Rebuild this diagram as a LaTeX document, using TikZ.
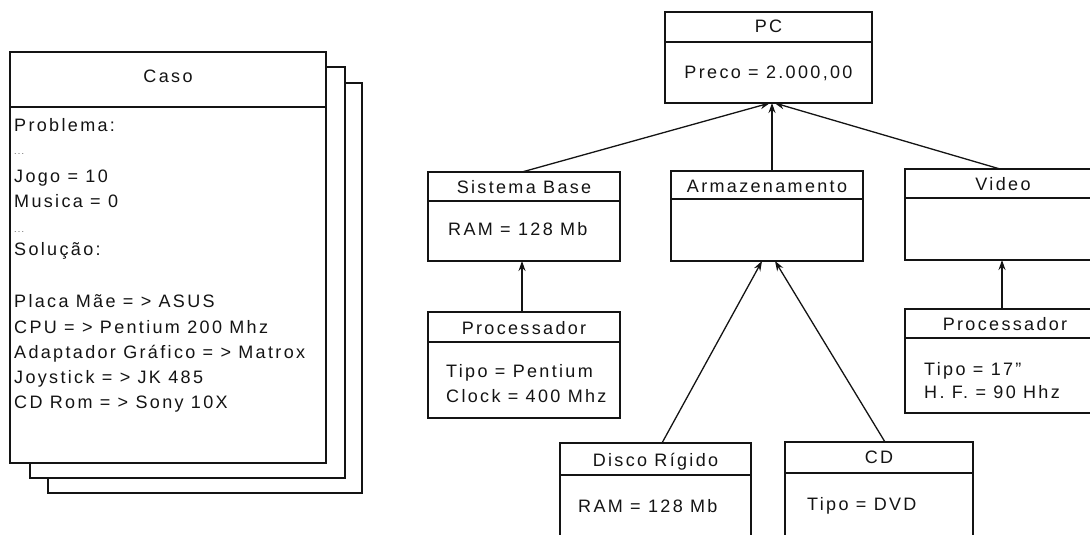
\documentclass[tikz,border=0pt]{standalone}
\usepackage{fontspec}
\setmainfont{Liberation Sans}[LetterSpace=13]
\usetikzlibrary{arrows.meta}
\definecolor{ink}{HTML}{141414}
\newcommand\txtsize{\fontsize{18}{21}\selectfont}
\tikzset{
  box/.style={draw=ink, line width=1.1pt, fill=white, inner sep=0pt, outer sep=0pt, anchor=north west},
  lbl/.style={font=\txtsize, text=ink, inner sep=0pt, anchor=base west},
  ttl/.style={font=\txtsize, text=ink, inner sep=0pt, anchor=base},
  dots/.style={font=\fontsize{9}{10}\selectfont, text=ink!70, inner sep=0pt, anchor=base west},
  arr/.style={draw=ink, line width=1.3pt, -{Stealth[length=10pt,width=7pt]}}
}
\begin{document}
\begin{tikzpicture}[x=1pt,y=-1pt]
\useasboundingbox (0,0) rectangle (1090,535);
\clip (0,0) rectangle (1090,535);

% ---- Caso stack ----
\node[box, minimum width=314pt, minimum height=410pt] (page3) at (48,83) {};
\node[box, minimum width=315pt, minimum height=411pt] (page2) at (30,67) {};
\node[box, minimum width=316pt, minimum height=55pt] (casot) at (10,52) {};
\node[box, minimum width=316pt, minimum height=356pt] (casob) at (casot.south west) {};
\node[ttl] (casol) at (168,83) {Caso};
\node[lbl] (c1) at (14,131) {Problema:};
\node[dots] (c2) at (14,154) {...};
\node[lbl] (c3) at (14,182) {Jogo = 10};
\node[lbl] (c4) at (14,207) {Musica = 0};
\node[dots] (c5) at (14,232) {...};
\node[lbl] (c6) at (14,255) {Solução:};
\node[lbl] (c7) at (14,307) {Placa Mãe = > ASUS};
\node[lbl] (c8) at (14,333) {CPU = > Pentium 200 Mhz};
\node[lbl] (c9) at (14,358) {Adaptador Gráfico = > Matrox};
\node[lbl] (c10) at (14,383) {Joystick = > JK 485};
\node[lbl] (c11) at (14,408) {CD Rom = > Sony 10X};

% ---- PC ----
\node[box, minimum width=207pt, minimum height=30pt] (pct) at (665,12) {};
\node[box, minimum width=207pt, minimum height=61pt] (pcb) at (pct.south west) {};
\node[ttl] (pcl) at (768.5,33) {PC};
\node[ttl] (pcv) at (768.5,78) {Preco = 2.000,00};

% ---- Sistema Base ----
\node[box, minimum width=192pt, minimum height=29pt] (sbt) at (428,172) {};
\node[box, minimum width=192pt, minimum height=60pt] (sbb) at (sbt.south west) {};
\node[ttl] (sbl) at (524,193) {Sistema Base};
\node[lbl] (sbv) at (448,235) {RAM = 128 Mb};

% ---- Processador (left) ----
\node[box, minimum width=192pt, minimum height=30pt] (plt) at (428,312) {};
\node[box, minimum width=192pt, minimum height=76pt] (plb) at (plt.south west) {};
\node[ttl] (pll) at (524,334) {Processador};
\node[lbl] (plv1) at (446,377) {Tipo = Pentium};
\node[lbl] (plv2) at (446,402) {Clock = 400 Mhz};

% ---- Armazenamento ----
\node[box, minimum width=192pt, minimum height=28pt] (at) at (671,171) {};
\node[box, minimum width=192pt, minimum height=62pt] (ab) at (at.south west) {};
\node[ttl] (al) at (767,192) {Armazenamento};

% ---- Video ----
\node[box, minimum width=196pt, minimum height=29pt] (vt) at (905,169) {};
\node[box, minimum width=196pt, minimum height=62pt] (vb) at (vt.south west) {};
\node[ttl] (vl) at (1003,190) {Video};

% ---- Processador (right) ----
\node[box, minimum width=200pt, minimum height=29pt] (prt) at (905,309) {};
\node[box, minimum width=200pt, minimum height=75pt] (prb) at (prt.south west) {};
\node[ttl] (prl) at (1005,330) {Processador};
\node[lbl] (prv1) at (924,375) {Tipo = 17"};
\node[lbl] (prv2) at (924,398) {H. F. = 90 Hhz};

% ---- Disco Rigido ----
\node[box, minimum width=191pt, minimum height=32pt] (dt) at (560,443) {};
\node[box, minimum width=191pt, minimum height=80pt] (db) at (dt.south west) {};
\node[ttl] (dl) at (655.5,466) {Disco Rígido};
\node[lbl] (dv) at (578,512) {RAM = 128 Mb};

% ---- CD ----
\node[box, minimum width=188pt, minimum height=31pt] (ct) at (785,442) {};
\node[box, minimum width=188pt, minimum height=80pt] (cb) at (ct.south west) {};
\node[ttl] (cl) at (879,463) {CD};
\node[lbl] (cv) at (807,510) {Tipo = DVD};

% ---- connectors ----
\draw[arr] ([xshift=-2pt]sbt.north) -- ([xshift=1.5pt]pcb.south);
\draw[arr] ([xshift=5pt]at.north) -- ([xshift=3.5pt]pcb.south);
\draw[arr] ([xshift=-3pt]vt.north) -- ([xshift=6pt]pcb.south);
\draw[arr] ([xshift=-2pt]plt.north) -- ([xshift=-2pt]sbb.south);
\draw[arr] ([xshift=-3pt]prt.north) -- ([xshift=-1pt]vb.south);
\draw[arr] ([xshift=6.5pt]dt.north) -- ([xshift=-5pt]ab.south);
\draw[arr] ([xshift=6pt]ct.north) -- ([xshift=8pt]ab.south);
\end{tikzpicture}
\end{document}
